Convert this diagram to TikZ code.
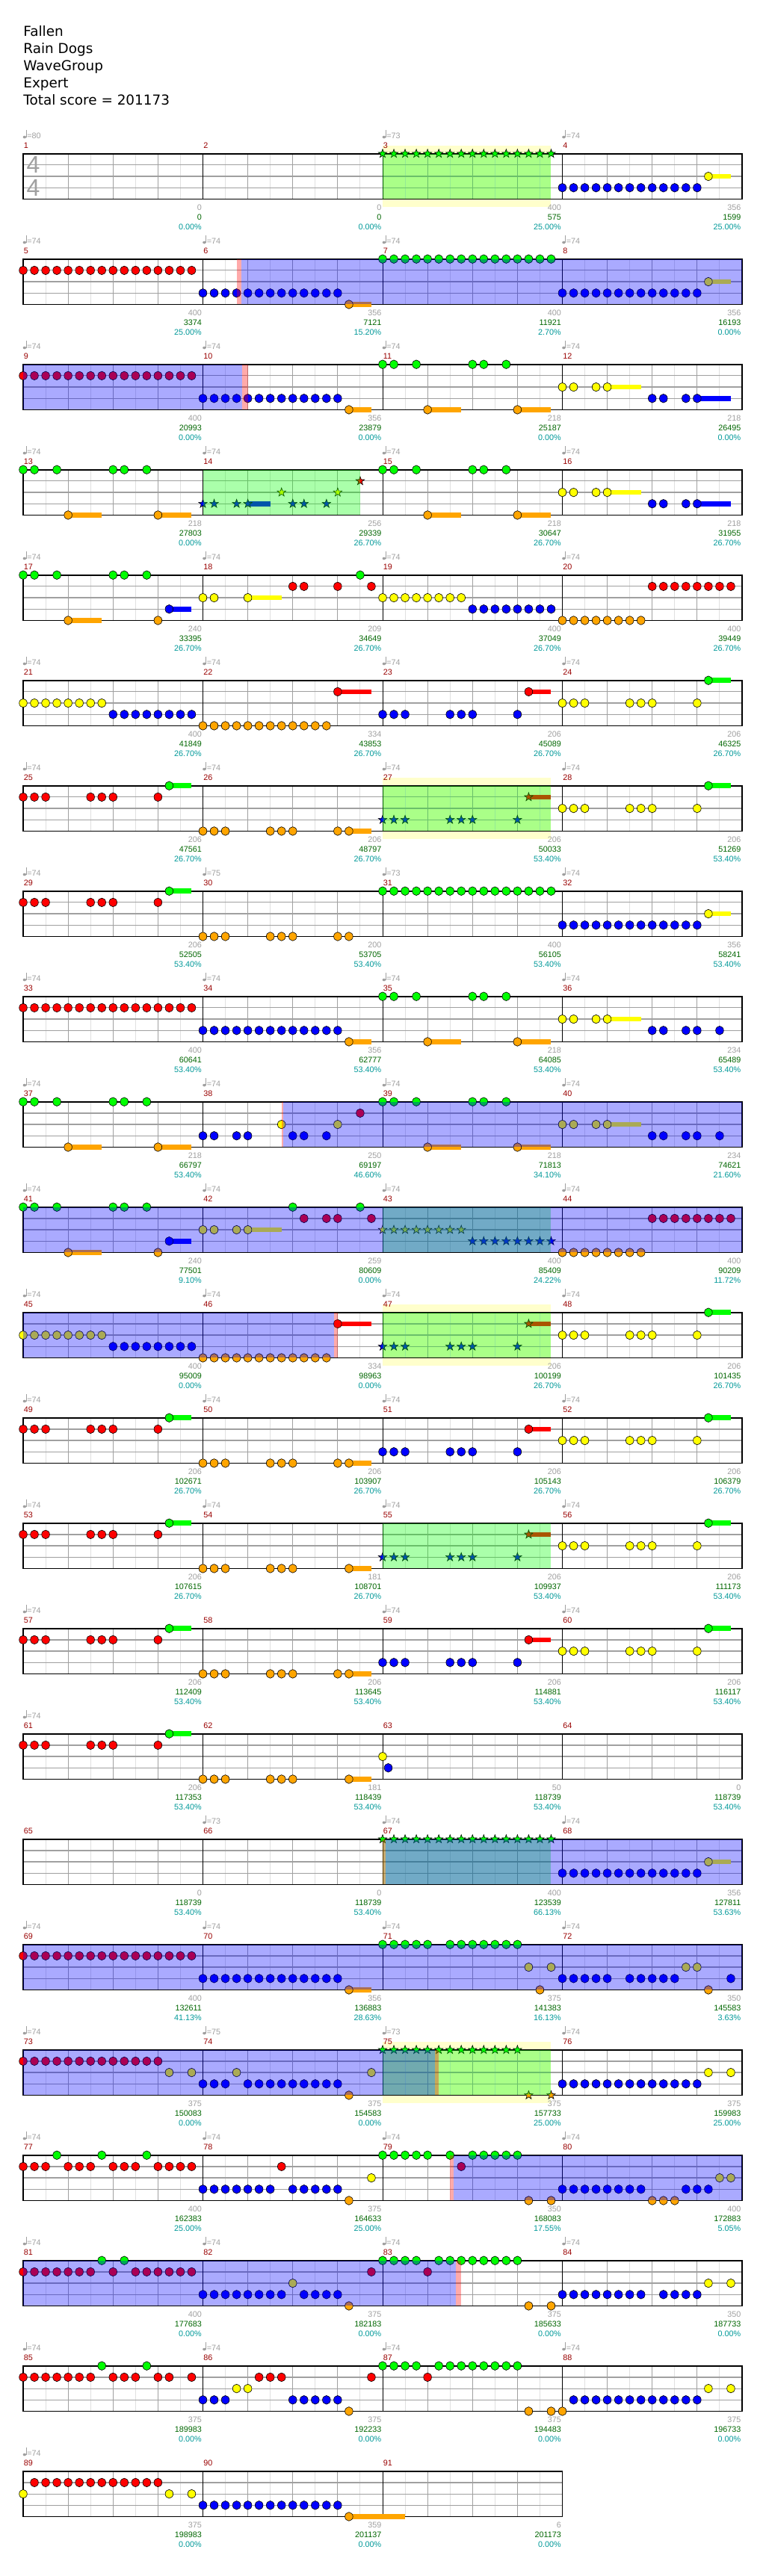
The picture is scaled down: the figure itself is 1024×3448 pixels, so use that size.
\documentclass[tikz,border=0pt]{standalone}
\usepackage{fontspec}
\setmainfont{Liberation Sans}
\newfontfamily\headfont{DejaVu Sans}
\definecolor{ln0}{HTML}{00FF00}
\definecolor{ln1}{HTML}{FF0000}
\definecolor{ln2}{HTML}{FFFF00}
\definecolor{ln3}{HTML}{0000FF}
\definecolor{ln4}{HTML}{FFA500}
\definecolor{barnum}{HTML}{990000}
\definecolor{lbl}{HTML}{A0A0A0}
\definecolor{score}{HTML}{006600}
\definecolor{pct}{HTML}{009999}
\definecolor{subgrid}{HTML}{E0E0E0}
\definecolor{beatgrid}{HTML}{A0A0A0}
\definecolor{solo}{HTML}{FFFFCC}
\newcommand\lblfont{\fontsize{5.4}{6.5}\selectfont}
\newcommand\tsfont{\fontsize{16}{16}\selectfont}
\newcommand\gx[2]{31+mod(#1-1,4)*240.5+(#2)*15.031}
\newcommand\gy[2]{205.7+int((#1-1)/4)*141+(#2)*15.18}
\newcommand\gems[3]{\foreach \t in {#3}{\filldraw[gem,fill=ln#2] ({\gx{#1}{\t}},{\gy{#1}{#2}}) ellipse[x radius=2.65pt,y radius=2.9pt];}}
\newcommand\stargems[3]{\foreach \t in {#3}{\filldraw[gem,fill=ln#2,shift={({\gx{#1}{\t}},{\gy{#1}{#2}})}] (90:3pt) -- (126:1.2pt) -- (162:3pt) -- (198:1.2pt) -- (234:3pt) -- (270:1.2pt) -- (306:3pt) -- (342:1.2pt) -- (18:3pt) -- (54:1.2pt) -- cycle;}}
\newcommand\tail[4]{\fill[ln#2] ({\gx{#1}{#3}},{\gy{#1}{#2}-3.35}) rectangle ({\gx{#1}{#4}},{\gy{#1}{#2}+3.35});}
\newcommand\band[4]{\fill[#1] ({\gx{#2}{#3}},{\gy{#2}{0}}) rectangle ({\gx{#2}{#4}},{\gy{#2}{4}});}
\newcommand\soloband[1]{\fill[solo] ({\gx{#1}{0}},{\gy{#1}{0}-10.5}) rectangle ({\gx{#1}{15}},{\gy{#1}{4}+10.5});}

\begin{document}
\begin{tikzpicture}[x=0.5pt,y=-0.5pt,
  gem/.style={draw=black,line width=0.3pt},
  spband/.style={fill=green,fill opacity=0.333},
  odband/.style={fill=blue,fill opacity=0.333},
  actband/.style={fill=red,fill opacity=0.333},
  subline/.style={draw=subgrid,line width=0.5pt},
  beatline/.style={draw=beatgrid,line width=0.5pt},
  barline/.style={draw=black,line width=0.5pt},
  laneline/.style={draw=beatgrid,line width=0.6pt},
  staffbox/.style={draw=black,line width=0.8pt},
  heading/.style={anchor=base west,inner sep=0pt,font=\headfont\fontsize{9.2}{11}\selectfont},
  barno/.style={anchor=base west,inner sep=0pt,text=barnum,font=\lblfont},
  tempotext/.style={anchor=base west,inner sep=0pt,text=lbl,font=\lblfont},
  weighttext/.style={anchor=base east,inner sep=0pt,text=lbl,font=\lblfont},
  scoretext/.style={anchor=base east,inner sep=0pt,text=score,font=\lblfont},
  pcttext/.style={anchor=base east,inner sep=0pt,text=pct,font=\lblfont},
  timesig/.style={inner sep=0pt,text=lbl,font=\tsfont}
]
\fill[white] (0,0) rectangle (1024,3448);
\useasboundingbox (0,0) rectangle (1024,3448);

\node[heading] (song) at (31,48.7) {Fallen};
\node[heading] (artist) at (31,71.7) {Rain Dogs};
\node[heading] (part) at (31,94.7) {WaveGroup};
\node[heading] (level) at (31,117.7) {Expert};
\node[heading] (total) at (31,140.7) {Total score = 201173};

\soloband{3}
\soloband{27}
\soloband{47}
\soloband{75}

\foreach \m in {1,...,91}{
  \foreach \t in {2,6,10,14}{\draw[subline] ({\gx{\m}{\t}},{\gy{\m}{0}}) -- ({\gx{\m}{\t}},{\gy{\m}{4}});}
  \foreach \t in {4,8,12}{\draw[beatline] ({\gx{\m}{\t}},{\gy{\m}{0}}) -- ({\gx{\m}{\t}},{\gy{\m}{4}});}
}
\foreach \r in {0,...,22}{
  \pgfmathsetmacro\w{\r<22 ? 962 : 721.5}
  \foreach \l in {1,2,3}{\draw[laneline] (31,{205.7+\r*141+\l*15.18}) -- ({31+\w},{205.7+\r*141+\l*15.18});}
}
\foreach \m in {1,...,91}{\draw[barline] ({\gx{\m}{0}},{\gy{\m}{0}}) -- ({\gx{\m}{0}},{\gy{\m}{4}});}
\foreach \r in {0,...,22}{
  \pgfmathsetmacro\w{\r<22 ? 962 : 721.5}
  \draw[staffbox] (31,{205.7+\r*141}) rectangle ({31+\w},{205.7+\r*141+60.72});
}

\node[timesig] (tsup) at (44.5,220.6) {4};
\node[timesig] (tsdown) at (44.5,251.3) {4};

\stargems{3}{0}{0,...,15}
\stargems{67}{0}{0,...,15}
\foreach \m in {4,8,32,68}{\gems{\m}{3}{0,...,12}\tail{\m}{2}{13}{15}\gems{\m}{2}{13}}
\foreach \m in {6,10,34,70}{\gems{\m}{3}{0,...,12}\tail{\m}{4}{13}{15}\gems{\m}{4}{13}}
\foreach \m in {5,9,33,69}{\gems{\m}{1}{0,...,15}}
\foreach \m in {7,31}{\gems{\m}{0}{0,...,15}}
\foreach \m in {11,13,15,35,37,39}{\gems{\m}{0}{0,1,3,8,9,11}\tail{\m}{4}{4}{7}\tail{\m}{4}{12}{15}\gems{\m}{4}{4,12}}
\foreach \m in {12,16}{\tail{\m}{2}{4}{7}\gems{\m}{2}{0,1,3,4}\tail{\m}{3}{12}{15}\gems{\m}{3}{8,9,11,12}}
\foreach \m in {36,40}{\tail{\m}{2}{4}{7}\gems{\m}{2}{0,1,3,4}\gems{\m}{3}{8,9,11,12,14}}
\foreach \m in {17,41}{\gems{\m}{0}{0,1,3,8,9,11}\tail{\m}{4}{4}{7}\gems{\m}{4}{4,12}\tail{\m}{3}{13}{15}\gems{\m}{3}{13}}
\foreach \m in {19,21,45}{\gems{\m}{2}{0,...,7}\gems{\m}{3}{8,...,15}}
\foreach \m in {20,44}{\gems{\m}{4}{0,...,7}\gems{\m}{1}{8,...,15}}
\foreach \m in {22,46}{\gems{\m}{4}{0,...,11}\tail{\m}{1}{12}{15}\gems{\m}{1}{12}}
\foreach \m in {23,51,59}{\gems{\m}{3}{0,1,2,6,7,8,12}\tail{\m}{1}{13}{15}\gems{\m}{1}{13}}
\foreach \m in {24,28,48,52,56,60}{\gems{\m}{2}{0,1,2,6,7,8,12}\tail{\m}{0}{13}{15}\gems{\m}{0}{13}}
\foreach \m in {25,29,49,53,57,61}{\gems{\m}{1}{0,1,2,6,7,8,12}\tail{\m}{0}{13}{15}\gems{\m}{0}{13}}
\foreach \m in {26,50,58}{\tail{\m}{4}{13}{15}\gems{\m}{4}{0,1,2,6,7,8,12,13}}
\gems{30}{4}{0,1,2,6,7,8,12,13}
\foreach \m in {54,62}{\tail{\m}{4}{13}{15}\gems{\m}{4}{0,1,2,6,7,8,13}}
\foreach \m in {27,47,55}{\stargems{\m}{3}{0,1,2,6,7,8,12}\tail{\m}{1}{13}{15}\stargems{\m}{1}{13}}

\tail{14}{3}{4}{6}
\stargems{14}{3}{0,1,3,4,8,9,11}
\stargems{14}{2}{7,12}
\stargems{14}{1}{14}
\gems{18}{2}{0,1}
\tail{18}{2}{4}{7}
\gems{18}{2}{4}
\gems{18}{1}{8,9,12,15}
\gems{18}{0}{14}
\gems{38}{3}{0,1,3,4,8,9,11}
\gems{38}{2}{7,12}
\gems{38}{1}{14}
\tail{42}{2}{4}{7}
\gems{42}{2}{0,1,3,4}
\gems{42}{0}{8,14}
\gems{42}{1}{9,11,12,15}
\stargems{43}{2}{0,...,7}
\stargems{43}{3}{8,...,15}
\gems{63}{2}{0}
\gems{63}{3}{0.5}
\gems{71}{0}{0,1,2,3,4,6,7,8,9,10,11,12}
\gems{71}{2}{13,15}
\gems{71}{4}{14}
\gems{72}{3}{0,1,2,3,4,6,7,8,9,10,15}
\gems{72}{2}{11,12}
\gems{72}{4}{13}
\gems{73}{1}{0,...,12}
\gems{73}{2}{13,15}
\gems{74}{3}{0,1,2,4,5,6,7,8,9,10,11,12}
\gems{74}{2}{3,15}
\gems{74}{4}{13}
\stargems{75}{0}{0,...,12}
\stargems{75}{4}{13,15}
\gems{76}{3}{0,...,12}
\gems{76}{2}{13,15}
\gems{77}{0}{3,7,11}
\gems{77}{1}{0,1,2,4,5,6,8,9,10,12,13,14,15}
\gems{78}{3}{0,1,2,3,4,5,6,8,9,10,11,12}
\gems{78}{1}{7}
\gems{78}{4}{13}
\gems{78}{2}{15}
\gems{79}{0}{0,1,2,3,4,6,8,9,10,11,12}
\gems{79}{1}{7}
\gems{79}{4}{13,15}
\gems{80}{3}{0,1,2,3,4,5,6,7,11,12,13}
\gems{80}{4}{8,9,10}
\gems{80}{2}{14,15}
\gems{81}{1}{0,1,2,3,4,5,6,8,10,11,12,13,14,15}
\gems{81}{0}{7,9}
\gems{82}{3}{0,1,2,3,4,5,6,7,9,10,11,12}
\gems{82}{2}{8}
\gems{82}{4}{13}
\gems{82}{1}{15}
\foreach \m in {83,87}{\gems{\m}{0}{0,1,2,3,5,6,7,8,9,10,11,12}\gems{\m}{1}{4}\gems{\m}{4}{13,15}}
\gems{84}{3}{0,1,2,3,4,5,6,7,9,10,11,12}
\gems{84}{2}{13,15}
\gems{85}{1}{0,1,2,3,4,5,6,8,9,10,12,13,15}
\gems{85}{0}{7,11}
\gems{86}{3}{0,1,2,8,9,10,11,12}
\gems{86}{2}{3,4}
\gems{86}{1}{5,6,7,15}
\gems{86}{4}{13}
\gems{88}{4}{0}
\gems{88}{3}{1,...,12}
\gems{88}{2}{13,15}
\gems{89}{2}{0,13,15}
\gems{89}{1}{1,...,12}
\gems{90}{3}{0,...,12}
\tail{90}{4}{13}{18}
\gems{90}{4}{13}

\foreach \m/\a/\b in {3/0/15,14/0/14,27/0/15,43/0/15,47/0/15,55/0/15,67/0/15,75/0/15}{\band{spband}{\m}{\a}{\b}}
\foreach \m/\a/\b in {6/3/3.4,10/3.5/4,38/7/7.17,46/11.65/12,67/0/0.26,75/4.65/4.96,79/6/6.35,83/6.5/7}{\band{actband}{\m}{\a}{\b}}
\foreach \m/\a/\b in {6/3.4/48,9/0/19.5,38/7.17/48,41/0/64,45/0/27.65,67/0.26/32,69/0/64,73/0/36.65,79/6.35/32,81/0/38.5}{\band{odband}{\m}{\a}{\b}}

\foreach \m/\tp/\wt/\sc/\pc in {1/80/0/0/0.00,2/0/0/0/0.00,3/73/400/575/25.00,4/74/356/1599/25.00,
  5/74/400/3374/25.00,6/74/356/7121/15.20,7/74/400/11921/2.70,8/74/356/16193/0.00,
  9/74/400/20993/0.00,10/74/356/23879/0.00,11/74/218/25187/0.00,12/74/218/26495/0.00,
  13/74/218/27803/0.00,14/74/256/29339/26.70,15/74/218/30647/26.70,16/74/218/31955/26.70,
  17/74/240/33395/26.70,18/74/209/34649/26.70,19/74/400/37049/26.70,20/74/400/39449/26.70,
  21/74/400/41849/26.70,22/74/334/43853/26.70,23/74/206/45089/26.70,24/74/206/46325/26.70,
  25/74/206/47561/26.70,26/74/206/48797/26.70,27/74/206/50033/53.40,28/74/206/51269/53.40,
  29/74/206/52505/53.40,30/75/200/53705/53.40,31/73/400/56105/53.40,32/74/356/58241/53.40,
  33/74/400/60641/53.40,34/74/356/62777/53.40,35/74/218/64085/53.40,36/74/234/65489/53.40,
  37/74/218/66797/53.40,38/74/250/69197/46.60,39/74/218/71813/34.10,40/74/234/74621/21.60,
  41/74/240/77501/9.10,42/74/259/80609/0.00,43/74/400/85409/24.22,44/74/400/90209/11.72,
  45/74/400/95009/0.00,46/74/334/98963/0.00,47/74/206/100199/26.70,48/74/206/101435/26.70,
  49/74/206/102671/26.70,50/74/206/103907/26.70,51/74/206/105143/26.70,52/74/206/106379/26.70,
  53/74/206/107615/26.70,54/74/181/108701/26.70,55/74/206/109937/53.40,56/74/206/111173/53.40,
  57/74/206/112409/53.40,58/0/206/113645/53.40,59/74/206/114881/53.40,60/74/206/116117/53.40,
  61/74/206/117353/53.40,62/0/181/118439/53.40,63/0/50/118739/53.40,64/0/0/118739/53.40,
  65/0/0/118739/53.40,66/73/0/118739/53.40,67/74/400/123539/66.13,68/74/356/127811/53.63,
  69/74/400/132611/41.13,70/74/356/136883/28.63,71/74/375/141383/16.13,72/74/350/145583/3.63,
  73/74/375/150083/0.00,74/75/375/154583/0.00,75/73/375/157733/25.00,76/74/375/159983/25.00,
  77/74/400/162383/25.00,78/74/375/164633/25.00,79/74/350/168083/17.55,80/74/400/172883/5.05,
  81/74/400/177683/0.00,82/74/375/182183/0.00,83/74/375/185633/0.00,84/74/350/187733/0.00,
  85/74/375/189983/0.00,86/74/375/192233/0.00,87/74/375/194483/0.00,88/74/375/196733/0.00,
  89/74/375/198983/0.00,90/0/359/201137/0.00,91/0/6/201173/0.00}{
  \node[barno] (bar\m) at ({\gx{\m}{0}+0.5},{\gy{\m}{0}-7.7}) {\m};
  \ifnum\tp>0
    \fill[lbl] ({\gx{\m}{0}+1.9},{\gy{\m}{0}-22.2}) ellipse[x radius=1.1pt,y radius=0.9pt];
    \draw[lbl,line width=0.35pt] ({\gx{\m}{0}+3.9},{\gy{\m}{0}-22.2}) -- ({\gx{\m}{0}+3.9},{\gy{\m}{0}-32});
    \node[tempotext] (bpm\m) at ({\gx{\m}{0}+5},{\gy{\m}{0}-20.7}) {=\tp};
  \fi
  \node[weighttext] (wt\m) at ({\gx{\m}{16}-1.3},{\gy{\m}{4}+15.3}) {\wt};
  \node[scoretext] (sc\m) at ({\gx{\m}{16}-1.3},{\gy{\m}{4}+27.9}) {\sc};
  \node[pcttext] (pc\m) at ({\gx{\m}{16}-1.3},{\gy{\m}{4}+41.3}) {\pc\%};
}
\end{tikzpicture}
\end{document}
